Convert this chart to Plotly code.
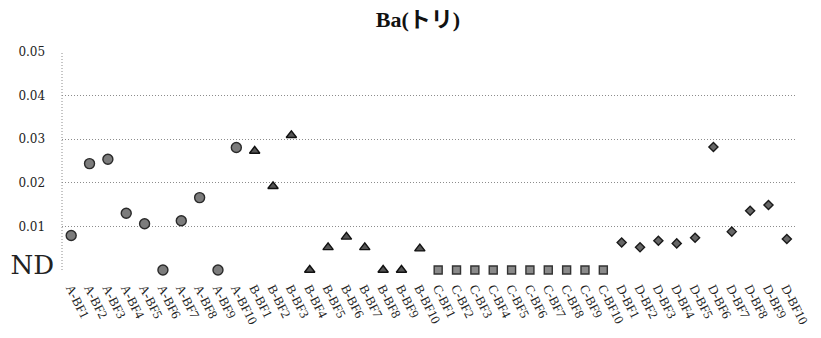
import plotly.graph_objects as go

# Sample labels per group
a_labels = [f"A-BF{i}" for i in range(1, 11)]
b_labels = [f"B-BF{i}" for i in range(1, 11)]
c_labels = [f"C-BF{i}" for i in range(1, 11)]
d_labels = [f"D-BF{i}" for i in range(1, 11)]

# Measured Ba concentrations (0 = not detected)
a_values = [0.0079, 0.0244, 0.0254, 0.0130, 0.0106, 0.0, 0.0113, 0.0166, 0.0, 0.0281]
b_values = [0.0273, 0.0192, 0.0309, 0.0, 0.0052, 0.0076, 0.0052, 0.0, 0.0, 0.0049]
c_values = [0.0] * 10
d_values = [0.0063, 0.0052, 0.0067, 0.0061, 0.0074, 0.0282, 0.0088, 0.0136, 0.0149, 0.0071]

y_tickvals = [0, 0.01, 0.02, 0.03, 0.04, 0.05]
y_ticklabels = ["ND", "0.01", "0.02", "0.03", "0.04", "0.05"]

categories = a_labels + b_labels + c_labels + d_labels
SERIF = "Liberation Serif, Times New Roman, Noto Sans CJK JP, serif"
WIDE_SERIF = "DejaVu Serif, serif"

# "ND" is set large; numeric labels get a little trailing padding
pad = '<span style="font-size:14px">&nbsp;&nbsp;</span>'
y_ticktext = ['<span style="font-size:26px">%s</span>' % t if t == "ND" else t + pad
              for t in y_ticklabels]

fig = go.Figure()

groups = [
    (a_labels, a_values, "circle", 10, "#7c7c7c", "#2a2a2a"),
    (b_labels, b_values, "triangle-up", 9, "#555555", "#111111"),
    (c_labels, c_values, "square", 8, "#8a8a8a", "#333333"),
    (d_labels, d_values, "diamond", 7, "#666666", "#1a1a1a"),
]
for labels, values, symbol, size, fill, edge in groups:
    fig.add_trace(go.Scatter(
        x=labels, y=values, mode="markers", cliponaxis=False,
        marker=dict(symbol=symbol, size=size, color=fill,
                    line=dict(color=edge, width=1.4)),
        showlegend=False,
    ))

fig.update_layout(
    width=821, height=338,
    margin=dict(l=59, r=10, t=52, b=68),
    paper_bgcolor="white", plot_bgcolor="white",
    font=dict(family=SERIF, color="#111111"),
    title=dict(text="<b>Ba(トリ)</b>", x=0.509, xref="container", xanchor="center",
               y=0.944, yref="container", yanchor="middle",
               font=dict(size=22, family=SERIF, color="#111111")),
    xaxis=dict(
        type="category", categoryorder="array", categoryarray=categories,
        range=[-0.5, len(categories) - 0.5],
        tickangle=63, tickfont=dict(size=13, family=SERIF, color="#222222"),
        showgrid=False, showline=False, zeroline=False, ticks="",
        ticklabelstandoff=7,
    ),
    yaxis=dict(
        range=[0, 0.05], tickvals=y_tickvals, ticktext=y_ticktext,
        tickfont=dict(size=12, family=WIDE_SERIF, color="#222222"),
        showgrid=True, gridcolor="#8c8c8c", griddash="1px,2px", gridwidth=1,
        zeroline=False, showline=False, ticks="", ticklabelstandoff=7,
    ),
)

# dotted left frame of the plotting area
fig.add_shape(type="line", xref="paper", yref="paper", x0=0, x1=0, y0=0, y1=1,
              line=dict(color="#8c8c8c", width=1, dash="1px,2px"), layer="below")

fig.write_html("out.html")
